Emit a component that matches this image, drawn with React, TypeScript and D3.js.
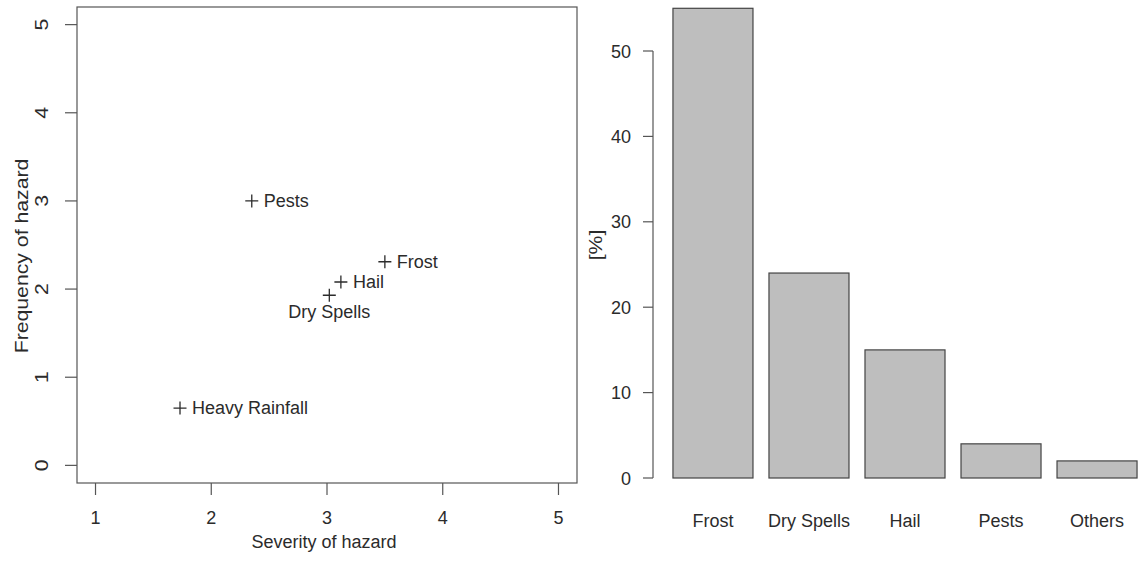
import { useEffect, useRef } from "react";
import * as d3 from "d3";

// scatter: hazard severity vs frequency
const hazards = ["Pests", "Frost", "Hail", "Dry Spells", "Heavy Rainfall"];
const severity = [2.35, 3.5, 3.12, 3.02, 1.73];
const frequency = [3.0, 2.31, 2.08, 1.93, 0.65];
const labelPos = ["right", "right", "right", "below", "right"];
const scatterTicks = [0, 1, 2, 3, 4, 5];
const severityTicks = [1, 2, 3, 4, 5];

// barplot: share of damage
const categories = ["Frost", "Dry Spells", "Hail", "Pests", "Others"];
const shares = [55, 24, 15, 4, 2];
const shareTicks = [0, 10, 20, 30, 40, 50];

const W = 1141;
const H = 561;
const FONT = "'Liberation Sans', Arial, Helvetica, sans-serif";
const INK = "#2b2b2b";
const FRAME = "#555";
// the source picture is a little taller than wide, so vertical text runs longer
const VSTRETCH = 1.18;

export default function App() {
  const ref = useRef<SVGSVGElement>(null);

  useEffect(() => {
    if (!ref.current) return;
    const svg = d3.select(ref.current);
    svg.selectAll("*").remove();

    // ---- left panel: scatter ----
    const x = d3.scaleLinear().domain([0.84, 5.16]).range([77, 577]);
    const y = d3.scaleLinear().domain([-0.2, 5.2]).range([483, 7]);
    const left = svg.append("g");

    left
      .append("rect")
      .attr("x", x.range()[0])
      .attr("y", y.range()[1])
      .attr("width", x.range()[1] - x.range()[0])
      .attr("height", y.range()[0] - y.range()[1])
      .attr("fill", "none")
      .attr("stroke", FRAME)
      .attr("stroke-width", 1.2);

    // x axis
    const xAxis = left.append("g");
    xAxis
      .selectAll("line")
      .data(severityTicks)
      .join("line")
      .attr("x1", (d) => x(d))
      .attr("x2", (d) => x(d))
      .attr("y1", 483)
      .attr("y2", 495)
      .attr("stroke", FRAME)
      .attr("stroke-width", 1.2);
    xAxis
      .selectAll("text")
      .data(severityTicks)
      .join("text")
      .attr("x", (d) => x(d))
      .attr("y", 524)
      .attr("text-anchor", "middle")
      .text((d) => d);

    // y axis (rotated labels like R's las=0)
    const yAxis = left.append("g");
    yAxis
      .selectAll("line")
      .data(scatterTicks)
      .join("line")
      .attr("x1", 65)
      .attr("x2", 77)
      .attr("y1", (d) => y(d))
      .attr("y2", (d) => y(d))
      .attr("stroke", FRAME)
      .attr("stroke-width", 1.2);
    yAxis
      .selectAll("text")
      .data(scatterTicks)
      .join("text")
      .attr("transform", (d) => `translate(48,${y(d)}) rotate(-90) scale(${VSTRETCH},1)`)
      .attr("text-anchor", "middle")
      .text((d) => d);

    left
      .append("text")
      .attr("x", 324)
      .attr("y", 548)
      .attr("text-anchor", "middle")
      .text("Severity of hazard");
    left
      .append("text")
      .attr("transform", `translate(28,256) rotate(-90) scale(${VSTRETCH},1)`)
      .attr("text-anchor", "middle")
      .text("Frequency of hazard");

    // points
    const pts = left
      .selectAll("g.pt")
      .data(hazards)
      .join("g")
      .attr("class", "pt")
      .attr("transform", (_d, i) => `translate(${x(severity[i])},${y(frequency[i])})`);
    pts
      .append("path")
      .attr("d", "M-6.5,0H6.5M0,-6.5V6.5")
      .attr("stroke", INK)
      .attr("stroke-width", 1.3)
      .attr("fill", "none");
    pts
      .append("text")
      .attr("x", (_d, i) => (labelPos[i] === "below" ? 0 : 12))
      .attr("y", (_d, i) => (labelPos[i] === "below" ? 23 : 6))
      .attr("text-anchor", (_d, i) => (labelPos[i] === "below" ? "middle" : "start"))
      .text((d) => d);

    // ---- right panel: barplot ----
    const bx = d3.scaleLinear().domain([-0.032, 6.232]).range([654.4, 1155.6]);
    const by = d3.scaleLinear().domain([0, 50]).range([478, 51]);
    const right = svg.append("g");

    right
      .selectAll("rect")
      .data(categories)
      .join("rect")
      .attr("x", (_d, i) => bx(0.2 + i * 1.2))
      .attr("width", bx(1) - bx(0))
      .attr("y", (_d, i) => by(shares[i]))
      .attr("height", (_d, i) => by(0) - by(shares[i]))
      .attr("fill", "#bebebe")
      .attr("stroke", "#444")
      .attr("stroke-width", 1.2);

    right
      .selectAll("text.cat")
      .data(categories)
      .join("text")
      .attr("class", "cat")
      .attr("x", (_d, i) => bx(0.7 + i * 1.2))
      .attr("y", 527)
      .attr("text-anchor", "middle")
      .text((d) => d);

    const axisX = 653;
    right
      .append("line")
      .attr("x1", axisX)
      .attr("x2", axisX)
      .attr("y1", by(0))
      .attr("y2", by(50))
      .attr("stroke", FRAME)
      .attr("stroke-width", 1.2);
    right
      .selectAll("line.tick")
      .data(shareTicks)
      .join("line")
      .attr("class", "tick")
      .attr("x1", axisX - 10)
      .attr("x2", axisX)
      .attr("y1", (d) => by(d))
      .attr("y2", (d) => by(d))
      .attr("stroke", FRAME)
      .attr("stroke-width", 1.2);
    right
      .selectAll("text.tl")
      .data(shareTicks)
      .join("text")
      .attr("class", "tl")
      .attr("x", 631)
      .attr("y", (d) => by(d) + 6.5)
      .attr("text-anchor", "end")
      .text((d) => d);
    right
      .append("text")
      .attr("transform", `translate(602,245) rotate(-90) scale(${VSTRETCH},1)`)
      .attr("text-anchor", "middle")
      .text("[%]");

    svg.selectAll("text").attr("fill", INK).attr("font-family", FONT).attr("font-size", 18);
  }, []);

  return (
    <div style={{ position: "fixed", left: 0, top: 0, background: "#fff" }}>
      <svg ref={ref} width={W} height={H} style={{ display: "block" }} />
    </div>
  );
}
